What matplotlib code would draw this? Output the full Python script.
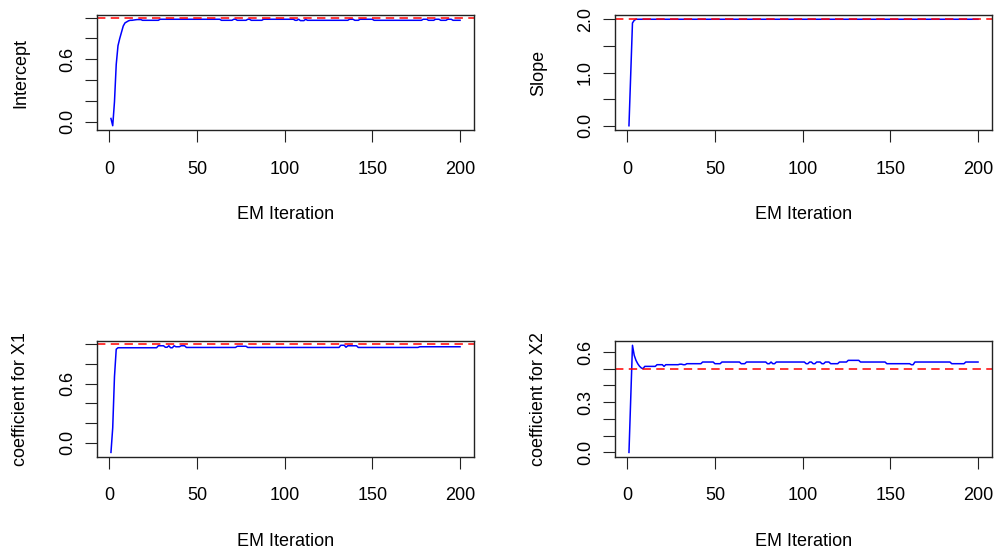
import numpy as np
import matplotlib.pyplot as plt

plt.rcParams['font.family'] = ['Liberation Sans', 'DejaVu Sans']
plt.rcParams['font.size'] = 13

# primeiras iteracoes lidas uma a uma, depois trechos (valor, repeticoes)
intercept_start = [0.03, -0.04, 0.19, 0.55, 0.73, 0.80, 0.86, 0.92, 0.95,
                   0.96, 0.97, 0.975, 0.975, 0.978, 0.98]
intercept_runs = [(0.982, 3), (0.975, 10), (0.985, 35), (0.975, 7), (0.985, 2),
                  (0.975, 6), (0.985, 2), (0.975, 7), (0.985, 18), (0.975, 2),
                  (0.985, 1), (0.972, 3), (0.985, 1), (0.975, 24), (0.985, 3),
                  (0.975, 3), (0.985, 8), (0.975, 28), (0.985, 3), (0.975, 4),
                  (0.985, 3), (0.975, 4), (0.985, 3), (0.975, 5)]

slope_start = [0.0, 0.95, 1.93, 1.98]
slope_runs = [(2.0, 196)]

x1_start = [-0.10, 0.15, 0.67, 0.95]
x1_runs = [(0.965, 23), (0.985, 4), (0.97, 2), (0.985, 1), (0.965, 2),
           (0.985, 1), (0.975, 3), (0.985, 3), (0.968, 29), (0.98, 6),
           (0.968, 53), (0.99, 3), (0.97, 1), (0.985, 6), (0.968, 35),
           (0.975, 24)]

x2_start = [0.0, 0.32, 0.64, 0.58, 0.55, 0.53, 0.515, 0.505, 0.50]
x2_runs = [(0.514, 7), (0.524, 4), (0.514, 1), (0.524, 8), (0.527, 2),
           (0.524, 2), (0.53, 9), (0.54, 7), (0.53, 4), (0.54, 11),
           (0.53, 3), (0.54, 12), (0.53, 2), (0.54, 1), (0.53, 2),
           (0.54, 5), (0.54, 12), (0.53, 2), (0.54, 2), (0.53, 2),
           (0.54, 3), (0.53, 2), (0.54, 3), (0.53, 5), (0.54, 5),
           (0.55, 7), (0.54, 15), (0.53, 14), (0.524, 2), (0.54, 21),
           (0.53, 8), (0.54, 8)]

true_values = [1.0, 2.0, 1.0, 0.5]
ylabels = ['Intercept', 'Slope', 'coefficient for X1', 'coefficient for X2']
yticks = [[0.0, 0.2, 0.4, 0.6, 0.8, 1.0],
          [0.0, 0.5, 1.0, 1.5, 2.0],
          [0.0, 0.2, 0.4, 0.6, 0.8, 1.0],
          [0.0, 0.1, 0.2, 0.3, 0.4, 0.5, 0.6]]
ytick_labels = [['0.0', '', '', '0.6', '', ''],
                ['0.0', '', '1.0', '', '2.0'],
                ['0.0', '', '', '0.6', '', ''],
                ['0.0', '', '', '0.3', '', '', '0.6']]
xticks = [0, 50, 100, 150, 200]
xlabel = 'EM Iteration'


def expand(start, runs):
    vals = list(start)
    for v, n in runs:
        vals += [v] * n
    return np.array(vals)


series = [expand(intercept_start, intercept_runs),
          expand(slope_start, slope_runs),
          expand(x1_start, x1_runs),
          expand(x2_start, x2_runs)]

W, H = 995, 552
fig = plt.figure(figsize=(W / 100, H / 100), dpi=100)

# caixas dos paineis em pixels: esquerda, topo, direita, base
boxes = [(97, 15, 474, 130), (615, 15, 992, 130),
         (97, 341, 474, 456.7), (615, 341, 992, 456.7)]

for i, y in enumerate(series):
    l, t, r, b = boxes[i]
    ax = fig.add_axes([l / W, 1 - b / H, (r - l) / W, (b - t) / H])
    it = np.arange(1, len(y) + 1)

    ax.plot(it, y, color='blue', lw=1.1)
    ax.axhline(true_values[i], color='red', lw=1.1, ls=(0, (5.5, 3.5)))

    # limites no estilo do R (4% de folga)
    ax.set_xlim(1 - 0.04 * (len(y) - 1), len(y) + 0.04 * (len(y) - 1))
    pad = 0.04 * (y.max() - y.min())
    ax.set_ylim(y.min() - pad, y.max() + pad)

    ax.set_xticks(xticks)
    ax.set_yticks(yticks[i], ytick_labels[i])
    ax.tick_params(axis='both', length=8.6, width=0.8, color='#222222')
    ax.tick_params(axis='x', pad=13.5)
    ax.tick_params(axis='y', pad=6.5, labelrotation=90)
    for lab in ax.get_yticklabels():
        lab.set_va('center')

    for s in ax.spines.values():
        s.set_linewidth(1.0)
        s.set_color('#222222')

    hpx = b - t
    ax.set_xlabel(xlabel, va='top')
    ax.xaxis.set_label_coords(0.5, -76.5 / hpx)
    ax.set_ylabel(ylabels[i])
    ax.yaxis.set_label_coords(-68 / (r - l), 0.5)

plt.savefig('out.png', dpi=100)
